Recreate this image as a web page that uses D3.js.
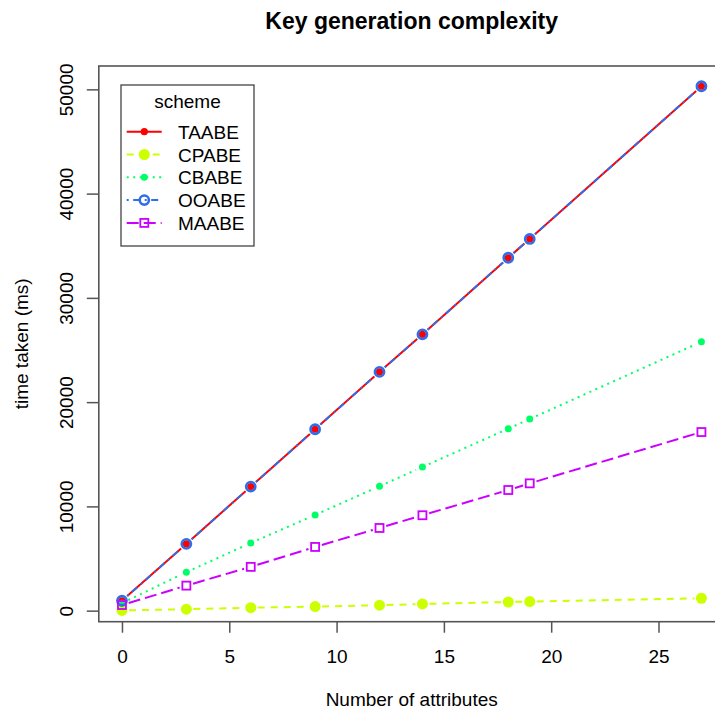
<!DOCTYPE html>
<html>
<head>
<meta charset="utf-8">
<script src="https://cdn.jsdelivr.net/npm/d3@7"></script>
<style>
  body { margin: 0; background: #fff; }
  svg text { font-family: "Liberation Sans", Arial, Helvetica, sans-serif; fill: #000; }
</style>
</head>
<body>
<div id="chart"></div>
<script>
// values
const attrs = [0, 3, 6, 9, 12, 14, 18, 19, 27];
const taabe = [950, 6400, 11900, 17400, 22900, 26500, 33850, 35650, 50300];
const cpabe = [20, 140, 280, 390, 520, 640, 830, 870, 1190];
const cbabe = [720, 3690, 6490, 9180, 11930, 13780, 17450, 18380, 25790];
const ooabe = [950, 6400, 11900, 17400, 22900, 26500, 33850, 35650, 50300];
const maabe = [540, 2400, 4200, 6110, 7930, 9150, 11570, 12210, 17130];

const schemeNames = ["TAABE", "CPABE", "CBABE", "OOABE", "MAABE"];
const xTicks = [0, 5, 10, 15, 20, 25];
const yTicks = [0, 10000, 20000, 30000, 40000, 50000];

// R rainbow(5), lty 1..5
const styles = {
    TAABE: { color: "#FF0000", dash: null, pch: "dot", r: 3.6 },
    CPABE: { color: "#CCFF00", dash: "7,6", pch: "disc", r: 5.5 },
    CBABE: { color: "#00FF66", dash: "2,4.5", pch: "dot", r: 3.5 },
    OOABE: { color: "#2F6EEB", dash: "2,4.5,7,4.5", pch: "ring", r: 4.6 },
    MAABE: { color: "#CC00FF", dash: "12,5", pch: "square", r: 4 }
};

const series = [
    { name: "TAABE", values: taabe },
    { name: "CPABE", values: cpabe },
    { name: "CBABE", values: cbabe },
    { name: "OOABE", values: ooabe },
    { name: "MAABE", values: maabe }
];

const W = 715, H = 714;
const x = d3.scaleLinear().domain([-1.08, 28.08]).range([98.8, 724.6]);
const y = d3.scaleLinear().domain([-1060, 52240]).range([621.7, 66]);

const svg = d3.select("#chart").append("svg")
    .attr("width", W)
    .attr("height", H);

const plot = svg.append("g");

function drawPoint(g, st, cx, cy) {
    if (st.pch === "dot" || st.pch === "disc") {
        g.append("circle").attr("cx", cx).attr("cy", cy).attr("r", st.r)
            .attr("fill", st.color);
    } else if (st.pch === "ring") {
        g.append("circle").attr("cx", cx).attr("cy", cy).attr("r", st.r)
            .attr("fill", "none").attr("stroke", st.color).attr("stroke-width", 2.6);
    } else {
        g.append("rect").attr("x", cx - st.r).attr("y", cy - st.r)
            .attr("width", st.r * 2).attr("height", st.r * 2)
            .attr("fill", "none").attr("stroke", st.color).attr("stroke-width", 1.8);
    }
}

// type = "b": segments with small gaps round the points
const gap = 7;
series.forEach(s => {
    const st = styles[s.name];
    const g = plot.append("g");
    const pts = attrs.map((a, i) => [x(a), y(s.values[i])]);
    for (let i = 0; i < pts.length - 1; i++) {
        const [x1, y1] = pts[i], [x2, y2] = pts[i + 1];
        const len = Math.hypot(x2 - x1, y2 - y1);
        if (len <= gap * 2) continue;
        const ux = (x2 - x1) / len, uy = (y2 - y1) / len;
        g.append("line")
            .attr("x1", x1 + ux * gap).attr("y1", y1 + uy * gap)
            .attr("x2", x2 - ux * gap).attr("y2", y2 - uy * gap)
            .attr("stroke", st.color)
            .attr("stroke-width", 2)
            .attr("stroke-dasharray", st.dash);
    }
    pts.forEach(p => drawPoint(g, st, p[0], p[1]));
});

// box
svg.append("rect")
    .attr("x", x.range()[0]).attr("y", y.range()[1])
    .attr("width", x.range()[1] - x.range()[0])
    .attr("height", y.range()[0] - y.range()[1])
    .attr("fill", "none").attr("stroke", "#555").attr("stroke-width", 1.6);

// axes
const xAxis = svg.append("g")
    .attr("transform", `translate(0, ${y.range()[0]})`)
    .call(d3.axisBottom(x).tickValues(xTicks).tickSize(11).tickPadding(17));
xAxis.select(".domain").remove();
xAxis.selectAll("line").attr("stroke", "#555").attr("stroke-width", 1.5);
xAxis.selectAll("text").style("font-size", "19px").attr("fill", "#000");

const yAxis = svg.append("g")
    .attr("transform", `translate(${x.range()[0]}, 0)`)
    .call(d3.axisLeft(y).tickValues(yTicks).tickSize(12).tickFormat(d3.format("d")));
yAxis.select(".domain").remove();
yAxis.selectAll("line").attr("stroke", "#555").attr("stroke-width", 1.5);
yAxis.selectAll("text")
    .style("font-size", "19px")
    .attr("fill", "#000")
    .attr("transform", "rotate(-90)")
    .attr("x", 0)
    .attr("y", -26)
    .attr("dy", null)
    .attr("text-anchor", "middle");

const cx = (x.range()[0] + x.range()[1]) / 2;
const cy = (y.range()[0] + y.range()[1]) / 2;

svg.append("text")
    .attr("x", cx).attr("y", 29)
    .attr("text-anchor", "middle")
    .style("font-size", "23px")
    .style("font-weight", "bold")
    .text("Key generation complexity");

svg.append("text")
    .attr("x", cx).attr("y", 706)
    .attr("text-anchor", "middle")
    .style("font-size", "19px")
    .text("Number of attributes");

svg.append("text")
    .attr("transform", `translate(28, ${cy}) rotate(-90)`)
    .attr("text-anchor", "middle")
    .style("font-size", "19px")
    .text("time taken (ms)");

// legend
const legend = svg.append("g").attr("transform", "translate(121, 85)");
legend.append("rect")
    .attr("width", 133).attr("height", 161)
    .attr("fill", "#fff").attr("stroke", "#444").attr("stroke-width", 1.3);
legend.append("text")
    .attr("x", 66.5).attr("y", 23)
    .attr("text-anchor", "middle")
    .style("font-size", "19px")
    .text("scheme");

schemeNames.forEach((name, i) => {
    const st = styles[name];
    const ly = 46.7 + i * 22.8;
    const g = legend.append("g");
    g.append("line")
        .attr("x1", 5.7).attr("x2", 40.7)
        .attr("y1", ly).attr("y2", ly)
        .attr("stroke", st.color).attr("stroke-width", 2)
        .attr("stroke-dasharray", st.dash);
    drawPoint(g, st, 23.3, ly);
    g.append("text")
        .attr("x", 57).attr("y", ly + 7)
        .style("font-size", "19px")
        .text(name);
});
</script>
</body>
</html>
